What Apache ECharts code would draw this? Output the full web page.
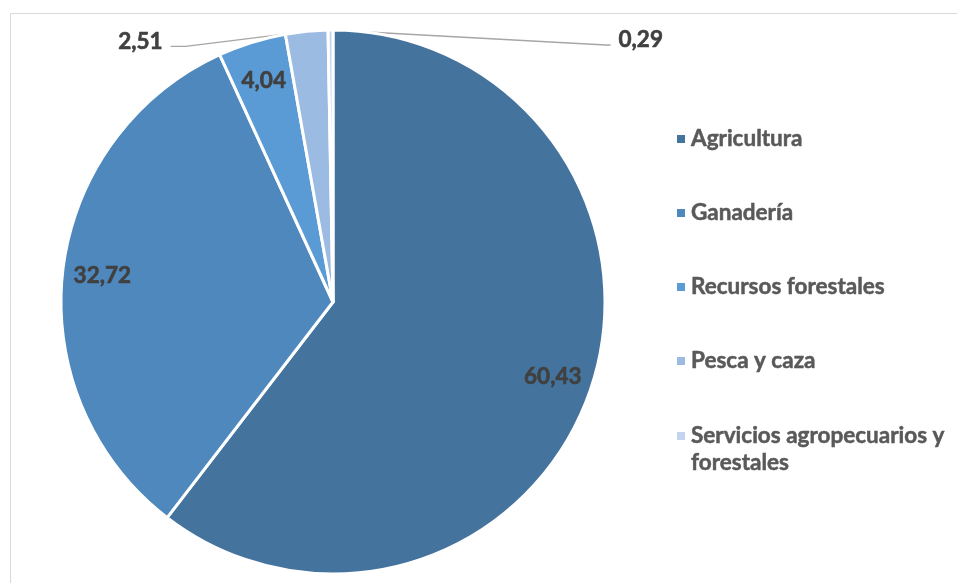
<!DOCTYPE html>
<html>
<head>
<meta charset="utf-8">
<style>
  html, body { margin: 0; padding: 0; background: #ffffff; }
  #chart { width: 957px; height: 583px; }
</style>
<script src="https://cdn.jsdelivr.net/npm/echarts@6/dist/echarts.min.js"></script>
</head>
<body>
<div id="chart"></div>
<script>
// ---- data ----
const categories = ['Agricultura', 'Ganadería', 'Recursos forestales', 'Pesca y caza', 'Servicios agropecuarios y forestales'];
const values = [60.43, 32.72, 4.04, 2.51, 0.29];
const colors = ['#44739E', '#4E88BD', '#5B9BD5', '#9CBBE2', '#C3D5EE'];
// label placement: 0 = inside, -1 = outside to the left, 1 = outside to the right
const labelSide = [0, 0, 0, -1, 1];

// ---- layout / style ----
const FONT = 'Lato';
const FS = 22.5;
const CX = 333, CY = 302, R = 272;
const INNER_K = 1.67;

const chart = echarts.init(document.getElementById('chart'), null, { renderer: 'canvas' });

const seriesData = categories.map((name, i) => {
  const item = { name: name, value: values[i], itemStyle: { color: colors[i] } };
  if (labelSide[i] !== 0) {
    item.label = { position: 'outside' };
    item.labelLine = { show: true };
  }
  return item;
});

const labelFmt = p => p.value.toFixed(2).replace('.', ',');
const legendText = {
  fontFamily: FONT, fontWeight: 'bold', fontSize: FS, lineHeight: 27, color: '#595959',
  textBorderColor: '#595959', textBorderWidth: 0.5
};

const option = {
  animation: false,
  backgroundColor: '#ffffff',
  graphic: [{
    type: 'rect', silent: true, z: -10,
    shape: { x: 10.5, y: 13.5, width: 1000, height: 1000 },
    style: { fill: 'none', stroke: '#D9D9D9', lineWidth: 1 }
  }],
  legend: [{
    orient: 'vertical', left: 675, top: 125.5, padding: 0,
    itemGap: 47, itemWidth: 10, itemHeight: 10, icon: 'rect',
    data: categories.slice(0, 4),
    textStyle: legendText
  }, {
    // two-line entry: square sits beside the first line
    orient: 'vertical', left: 675, top: 422.5, padding: 0,
    itemWidth: 10, itemHeight: 37,
    icon: 'path://M0,0H10V10H0Z M0,37H0.01V37.01H0Z',
    data: [categories[4]],
    formatter: n => n.replace(/ (\S+)$/, '\n$1'),
    textStyle: legendText
  }],
  series: [{
    type: 'pie',
    center: [CX, CY],
    radius: [0, R],
    startAngle: 90,
    clockwise: true,
    avoidLabelOverlap: false,
    itemStyle: { borderColor: '#ffffff', borderWidth: 3 },
    label: {
      show: true, position: 'inside', formatter: labelFmt,
      fontFamily: FONT, fontWeight: 'bold', fontSize: FS, color: '#404040',
      textBorderColor: '#404040', textBorderWidth: 0.6
    },
    labelLine: { show: false, length: 10, length2: 10, lineStyle: { color: '#A6A6A6', width: 1.3 } },
    labelLayout: function (p) {
      const side = labelSide[p.dataIndex];
      if (side === 0) {
        const lx = p.labelRect.x + p.labelRect.width / 2;
        const ly = p.labelRect.y + p.labelRect.height / 2;
        return { x: CX + (lx - CX) * INNER_K, y: CY + (ly - CY) * INNER_K, align: 'center', verticalAlign: 'middle' };
      }
      const p0 = p.labelLinePoints[0];
      const run = side < 0 ? 121 : 275;
      const p1 = [p0[0] + side * run, p0[1] + 15];
      const p2 = [p1[0] + side * (side < 0 ? 15 : 5), p1[1]];
      return {
        x: p2[0] + side * 8, y: p0[1] + 10,
        align: side < 0 ? 'right' : 'left', verticalAlign: 'middle',
        labelLinePoints: [p0, p1, p2]
      };
    },
    data: seriesData
  }]
};

chart.setOption(option);
</script>
</body>
</html>
